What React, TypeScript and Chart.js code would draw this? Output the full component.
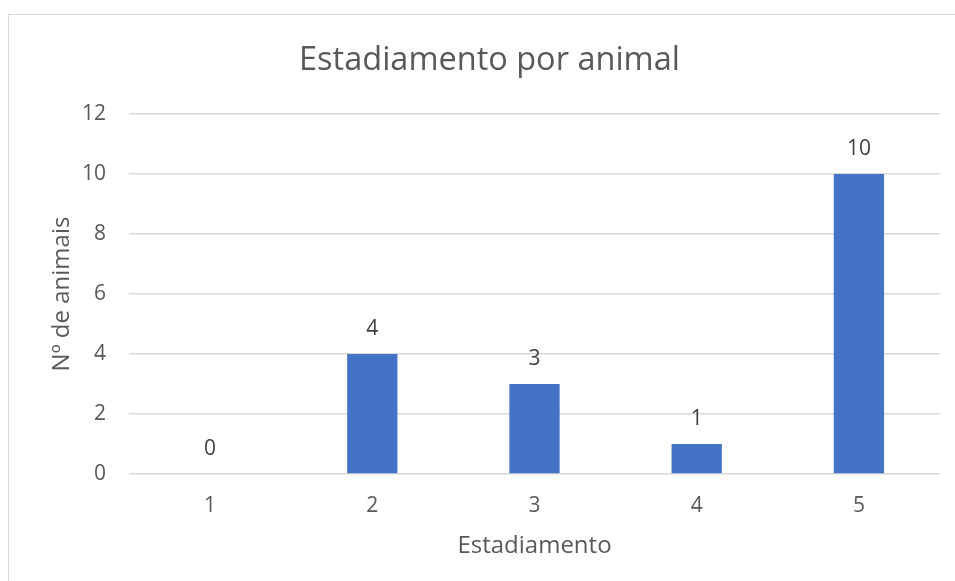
import React, { useEffect, useRef } from "react";
import { Chart, registerables } from "chart.js";

Chart.register(...registerables);

const categories = ["1", "2", "3", "4", "5"];
const animalCounts = [0, 4, 3, 1, 10];
const yTicks = [0, 2, 4, 6, 8, 10, 12];

const FONT = "'Open Sans', 'DejaVu Sans', sans-serif";
const TEXT = "#595959";
const GRID = "#d9d9d9";
const BAR = "#4472C4";

// Writes each bar's value a little above its top edge
const valueLabels = {
  id: "valueLabels",
  afterDatasetsDraw(chart: any) {
    const { ctx } = chart;
    const meta = chart.getDatasetMeta(0);
    const values = chart.data.datasets[0].data as number[];
    ctx.save();
    ctx.font = `21px ${FONT}`;
    ctx.fillStyle = "#404040";
    ctx.textAlign = "center";
    ctx.textBaseline = "middle";
    meta.data.forEach((bar: any, i: number) => {
      ctx.fillText(String(values[i]), bar.x, bar.y - 25);
    });
    ctx.restore();
  },
};

export default function App() {
  const canvasRef = useRef<HTMLCanvasElement | null>(null);

  useEffect(() => {
    if (!canvasRef.current) return;
    const chart = new Chart(canvasRef.current, {
      type: "bar",
      data: {
        labels: categories,
        datasets: [
          {
            data: animalCounts,
            backgroundColor: BAR,
            borderWidth: 0,
            categoryPercentage: 1,
            barPercentage: 0.31,
          },
        ],
      },
      options: {
        responsive: false,
        animation: false,
        layout: { padding: { right: 15, top: 0, bottom: 0, left: 30 } },
        plugins: {
          legend: { display: false },
          tooltip: { enabled: false },
          title: {
            display: true,
            text: "Estadiamento por animal",
            color: TEXT,
            font: { family: FONT, size: 32.5, weight: "normal" },
            padding: { top: 26, bottom: 34 },
          },
        },
        scales: {
          x: {
            grid: { display: false, drawTicks: false },
            border: { display: false },
            ticks: {
              color: TEXT,
              font: { family: FONT, size: 21 },
              padding: 19,
            },
            title: {
              display: true,
              text: "Estadiamento",
              color: TEXT,
              font: { family: FONT, size: 24 },
              padding: { top: 0, bottom: 20 },
            },
            afterFit(scale: any) {
              scale.height = 107;
            },
          },
          y: {
            min: 0,
            max: 12,
            afterBuildTicks(scale: any) {
              scale.ticks = yTicks.map((v) => ({ value: v }));
            },
            grid: { color: GRID, lineWidth: 1.5, drawTicks: false },
            border: { display: false },
            ticks: {
              color: TEXT,
              font: { family: FONT, size: 21 },
              padding: 23,
            },
            title: {
              display: true,
              text: "Nº de animais",
              color: TEXT,
              font: { family: FONT, size: 24 },
              padding: { top: 9, bottom: 0 },
            },
            afterFit(scale: any) {
              scale.width = 90;
            },
          },
        },
      },
      plugins: [valueLabels],
    });
    return () => chart.destroy();
  }, []);

  return (
    <div
      style={{
        position: "fixed",
        left: 8,
        top: 14,
        width: 947,
        height: 567,
        borderTop: `1px solid ${GRID}`,
        borderLeft: `1px solid ${GRID}`,
        background: "#fff",
      }}
    >
      <canvas ref={canvasRef} width={946} height={566} style={{ display: "block" }} />
    </div>
  );
}
